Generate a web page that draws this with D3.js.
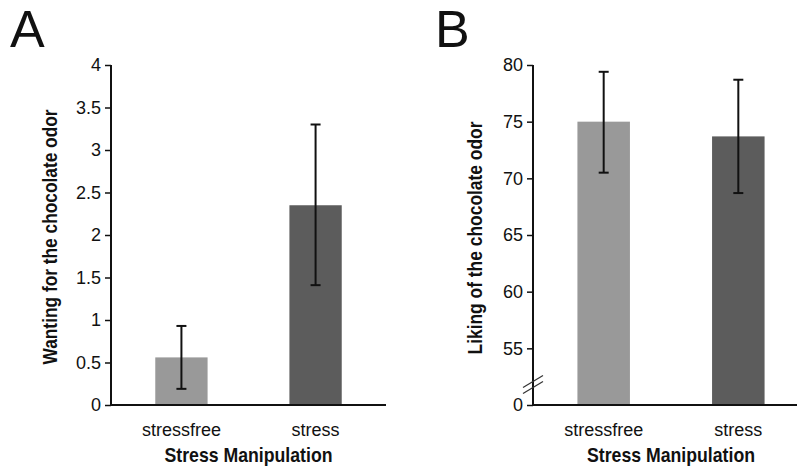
<!DOCTYPE html>
<html>
<head>
<meta charset="utf-8">
<script src="https://cdn.jsdelivr.net/npm/d3@7"></script>
<style>
  body { margin: 0; background: #fff; }
  text { fill: #111; }
</style>
</head>
<body>
<script>
const W = 797;
const H = 472;

const categories = ["stressfree", "stress"];
const colors = ["#999999", "#5c5c5c"];

// panel A: wanting
const wantingMean = [0.56, 2.35];
const wantingLow = [0.19, 1.41];
const wantingHigh = [0.93, 3.30];
const wantingTicks = [0, 0.5, 1, 1.5, 2, 2.5, 3, 3.5, 4];

// panel B: liking (axis broken, bottom tick stands for 0)
const likingMean = [75.0, 73.7];
const likingLow = [70.5, 68.7];
const likingHigh = [79.4, 78.7];
const likingTicks = [50, 55, 60, 65, 70, 75, 80];

const svg = d3.select("body").append("svg")
  .attr("width", W)
  .attr("height", H);

const FONT = "'Liberation Sans', Arial, Helvetica, sans-serif";

function panel(opt) {
  const g = svg.append("g");

  const x = d3.scaleBand()
    .domain(categories)
    .range(opt.xRange)
    .paddingInner(0.61)
    .paddingOuter(0.33);

  const y = d3.scaleLinear()
    .domain(opt.yDomain)
    .range([405, 65]);

  // panel letter
  g.append("text")
    .attr("x", opt.letterX)
    .attr("y", 47)
    .style("font-family", FONT)
    .style("font-size", "52px")
    .text(opt.letter);

  // bars
  g.selectAll("rect.bar")
    .data(categories)
    .enter()
    .append("rect")
    .attr("class", "bar")
    .attr("x", d => x(d))
    .attr("width", x.bandwidth())
    .attr("y", (d, i) => y(opt.mean[i]))
    .attr("height", (d, i) => y(opt.yDomain[0]) - y(opt.mean[i]))
    .attr("fill", (d, i) => colors[i]);

  // error bars
  const err = g.selectAll("g.err")
    .data(categories)
    .enter()
    .append("g")
    .attr("class", "err")
    .attr("stroke", "#111")
    .attr("stroke-width", 2);
  const cx = d => x(d) + x.bandwidth() / 2;
  err.append("line")
    .attr("x1", cx).attr("x2", cx)
    .attr("y1", (d, i) => y(opt.low[i]))
    .attr("y2", (d, i) => y(opt.high[i]));
  err.append("line")
    .attr("x1", d => cx(d) - 5).attr("x2", d => cx(d) + 5)
    .attr("y1", (d, i) => y(opt.high[i]))
    .attr("y2", (d, i) => y(opt.high[i]));
  err.append("line")
    .attr("x1", d => cx(d) - 5).attr("x2", d => cx(d) + 5)
    .attr("y1", (d, i) => y(opt.low[i]))
    .attr("y2", (d, i) => y(opt.low[i]));

  // y axis
  const yAxis = g.append("g")
    .attr("transform", "translate(" + opt.xRange[0] + ",0)")
    .call(d3.axisLeft(y)
      .tickValues(opt.ticks)
      .tickSize(6)
      .tickPadding(4)
      .tickSizeOuter(0)
      .tickFormat(opt.format));
  yAxis.select(".domain").attr("stroke", "#111").attr("stroke-width", 2)
    .attr("d", "M0," + y(opt.yDomain[1]) + "V" + (y(opt.yDomain[0]) + 1));
  yAxis.selectAll(".tick line").attr("stroke", "#111").attr("stroke-width", 1.5);
  yAxis.selectAll(".tick text")
    .style("font-family", FONT)
    .style("font-size", "18px")
    .attr("fill", "#111");

  // x axis
  const xAxis = g.append("g")
    .attr("transform", "translate(0,405)")
    .call(d3.axisBottom(x).tickSize(0).tickPadding(18));
  xAxis.select(".domain").attr("stroke", "#111").attr("stroke-width", 2)
    .attr("d", "M" + (opt.xRange[0] - 1) + ",0H" + opt.xRange[1]);
  xAxis.selectAll(".tick text")
    .style("font-family", FONT)
    .style("font-size", "18px")
    .attr("fill", "#222");

  // axis titles (condensed bold look)
  g.append("text")
    .attr("transform", "translate(" + opt.titleX + "," + opt.titleY + ") rotate(-90)")
    .attr("text-anchor", "middle")
    .attr("textLength", opt.titleLen)
    .attr("lengthAdjust", "spacingAndGlyphs")
    .style("font-family", FONT)
    .style("font-weight", "bold")
    .style("font-size", "21px")
    .text(opt.yTitle);

  g.append("text")
    .attr("x", (x(categories[0]) + x(categories[1]) + x.bandwidth()) / 2)
    .attr("y", 462)
    .attr("text-anchor", "middle")
    .attr("textLength", 168)
    .attr("lengthAdjust", "spacingAndGlyphs")
    .style("font-family", FONT)
    .style("font-weight", "bold")
    .style("font-size", "21px")
    .text("Stress Manipulation");

  return { g, x, y };
}

panel({
  letter: "A",
  letterX: 10,
  xRange: [111, 386],
  yDomain: [0, 4],
  ticks: wantingTicks,
  format: d => String(d),
  mean: wantingMean,
  low: wantingLow,
  high: wantingHigh,
  titleX: 57,
  titleY: 237,
  titleLen: 255,
  yTitle: "Wanting for the chocolate odor"
});

const b = panel({
  letter: "B",
  letterX: 435,
  xRange: [533, 809],
  yDomain: [50, 80],
  ticks: likingTicks,
  format: d => d === 50 ? "0" : String(d),
  mean: likingMean,
  low: likingLow,
  high: likingHigh,
  titleX: 482,
  titleY: 238,
  titleLen: 233,
  yTitle: "Liking of the chocolate odor"
});

// axis break marks
const bx = 533;
const by = b.y(51.8);
[-3, 3].forEach(off => {
  b.g.append("line")
    .attr("x1", bx - 10).attr("y1", by + 6 + off)
    .attr("x2", bx + 10).attr("y2", by - 6 + off)
    .attr("stroke", "#333")
    .attr("stroke-width", 1.2);
});
</script>
</body>
</html>
